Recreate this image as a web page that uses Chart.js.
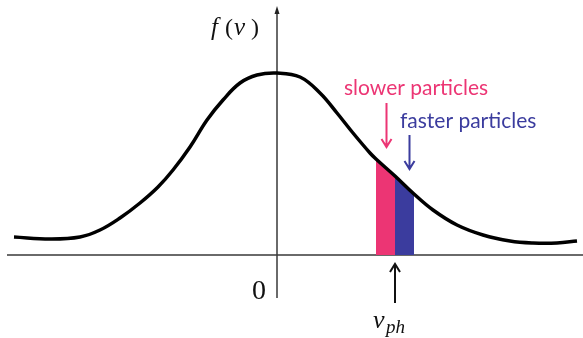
<!DOCTYPE html>
<html>
<head>
<meta charset="utf-8">
<title>f(v)</title>
<script src="https://cdn.jsdelivr.net/npm/chart.js@4/dist/chart.umd.min.js"></script>
<style>
  html, body { margin: 0; padding: 0; background: #fff; }
  #wrap { width: 583px; height: 338px; }
</style>
</head>
<body>
<div id="wrap"><canvas id="distChart" width="583" height="338"></canvas></div>
<script>
// velocity samples along the distribution curve
const velocity = [
  -2.63, -2.27, -1.97, -1.77, -1.57, -1.37, -1.19, -1.04, -0.87, -0.70,
  -0.54, -0.37, -0.20, 0.0, 0.23, 0.43, 0.60, 0.76, 0.93, 0.99,
  1.18, 1.37, 1.56, 1.80, 2.06, 2.33, 2.56, 2.80, 3.00,
];
const density = [
  0.18, 0.16, 0.18, 0.25, 0.37, 0.52, 0.68, 0.85, 1.08, 1.35,
  1.55, 1.72, 1.80, 1.82, 1.78, 1.62, 1.42, 1.22, 1.02, 0.96,
  0.79, 0.61, 0.45, 0.30, 0.20, 0.14, 0.12, 0.12, 0.14,
];

// phase velocity and the two bands either side of it
const vPh = 1.18;
const slowerBand = [0.99, 1.18];
const fasterBand = [1.18, 1.37];

const bandLabels = ["slower particles", "faster particles"];
const bandColors = ["#ec3574", "#3b3c9e"];

const curve = velocity.map((v, i) => ({ x: v, y: density[i] }));
const band = (range) =>
  curve.filter((p) => p.x >= range[0] - 1e-9 && p.x <= range[1] + 1e-9);

const arrow = (ctx, x, y1, y2, color) => {
  // y2 is the tip
  const dir = y2 > y1 ? 1 : -1;
  ctx.save();
  ctx.strokeStyle = color;
  ctx.lineWidth = 2;
  ctx.beginPath();
  ctx.moveTo(x, y1);
  ctx.lineTo(x, y2);
  ctx.moveTo(x - 5, y2 - dir * 8);
  ctx.lineTo(x, y2);
  ctx.lineTo(x + 5, y2 - dir * 8);
  ctx.stroke();
  ctx.restore();
};

const SERIF = "'Liberation Serif', 'DejaVu Serif', serif";

const axesPlugin = {
  id: "axesAndLabels",
  beforeDatasetsDraw(chart) {
    const ctx = chart.ctx;
    const xs = chart.scales.x;
    const ys = chart.scales.y;
    const x0 = xs.getPixelForValue(0);
    const y0 = ys.getPixelForValue(0);

    ctx.save();
    ctx.strokeStyle = "#3a3a3a";
    ctx.lineWidth = 1.5;
    ctx.beginPath();
    ctx.moveTo(7, y0);
    ctx.lineTo(chart.width, y0);
    ctx.moveTo(x0, 298);
    ctx.lineTo(x0, 12);
    ctx.stroke();
    // arrow head on the f(v) axis
    ctx.fillStyle = "#222";
    ctx.beginPath();
    ctx.moveTo(x0, 6);
    ctx.lineTo(x0 - 2.5, 14);
    ctx.lineTo(x0 + 2.5, 14);
    ctx.closePath();
    ctx.fill();
    ctx.restore();
  },
  afterDatasetsDraw(chart) {
    const ctx = chart.ctx;
    const xs = chart.scales.x;
    const ys = chart.scales.y;
    const x0 = xs.getPixelForValue(0);
    const y0 = ys.getPixelForValue(0);
    const xPh = xs.getPixelForValue(vPh);

    ctx.save();
    ctx.fillStyle = "#111";
    ctx.textBaseline = "alphabetic";
    ctx.textAlign = "left";

    // f(v), spaced out like a math font
    ctx.font = "italic 25px " + SERIF;
    ctx.fillText("f", x0 - 66, 35);
    ctx.fillText("v", x0 - 43, 35);
    ctx.font = "24px " + SERIF;
    ctx.fillText("(", x0 - 52, 35);
    ctx.fillText(")", x0 - 26, 35);

    ctx.font = "28px " + SERIF;
    ctx.textAlign = "center";
    ctx.fillText("0", x0 - 18, 299);

    // v_ph under the axis
    arrow(ctx, xPh, y0 + 48, y0 + 9, "#111");
    ctx.textAlign = "left";
    ctx.font = "italic 26px " + SERIF;
    ctx.fillText("v", xPh - 22, 328);
    ctx.font = "italic 19px " + SERIF;
    ctx.fillText("ph", xPh - 9, 333);

    // band labels
    ctx.font = "21px Lato, 'Open Sans', sans-serif";
    ctx.fillStyle = bandColors[0];
    ctx.fillText(bandLabels[0], 344, 95);
    ctx.fillStyle = bandColors[1];
    ctx.fillText(bandLabels[1], 400, 128);

    arrow(ctx, xs.getPixelForValue((slowerBand[0] + slowerBand[1]) / 2) + 1, 103, 147, bandColors[0]);
    arrow(ctx, xs.getPixelForValue((fasterBand[0] + fasterBand[1]) / 2) + 5, 135, 169, bandColors[1]);
    ctx.restore();
  },
};

const ctx = document.getElementById("distChart").getContext("2d");
new Chart(ctx, {
  type: "line",
  data: {
    datasets: [
      {
        label: "f(v)",
        data: curve,
        borderColor: "#000",
        borderWidth: 3.5,
        pointRadius: 0,
        fill: false,
        tension: 0.4,
        order: 0,
      },
      {
        label: bandLabels[0],
        data: band(slowerBand),
        borderWidth: 0,
        pointRadius: 0,
        backgroundColor: bandColors[0],
        fill: "origin",
        order: 1,
      },
      {
        label: bandLabels[1],
        data: band(fasterBand),
        borderWidth: 0,
        pointRadius: 0,
        backgroundColor: bandColors[1],
        fill: "origin",
        order: 1,
      },
    ],
  },
  options: {
    responsive: false,
    animation: false,
    events: [],
    layout: { padding: 0 },
    plugins: {
      legend: { display: false },
      tooltip: { enabled: false },
    },
    scales: {
      x: { type: "linear", min: -2.77, max: 3.06, display: false },
      y: { type: "linear", min: -0.83, max: 2.55, display: false },
    },
  },
  plugins: [axesPlugin],
});
</script>
</body>
</html>
